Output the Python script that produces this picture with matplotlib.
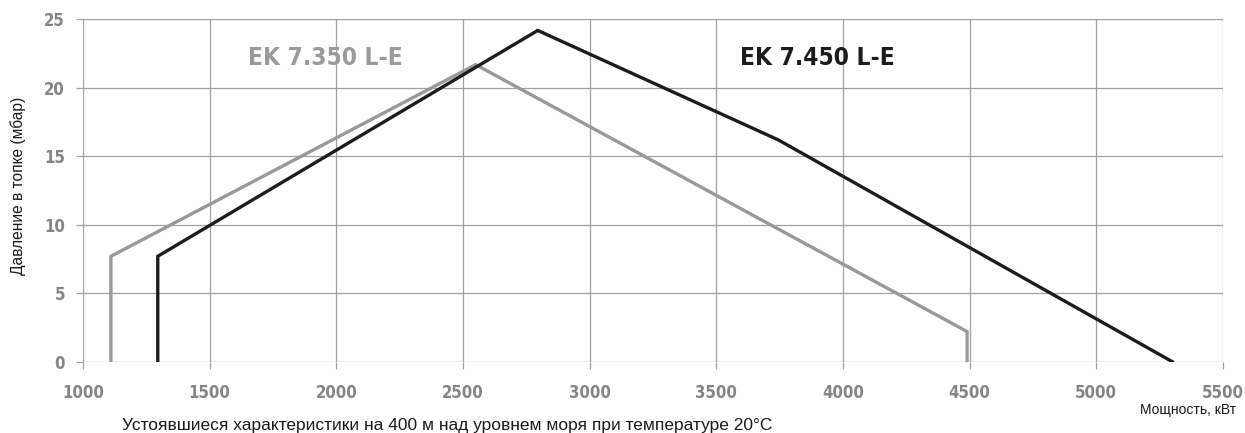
import matplotlib
matplotlib.use("Agg")
import matplotlib.pyplot as plt
from matplotlib import font_manager
from matplotlib.font_manager import FontProperties

# Data
x_350 = [1110, 1110, 2550, 4490, 4490]
y_350 = [0, 7.7, 21.7, 2.2, 0]
x_450 = [1295, 1295, 2795, 3745, 5300]
y_450 = [0, 7.7, 24.2, 16.2, 0]
xticks = [1000, 1500, 2000, 2500, 3000, 3500, 4000, 4500, 5000, 5500]
yticks = [0, 5, 10, 15, 20, 25]

# pick a condensed bold font if available
cand = None
for f in font_manager.fontManager.ttflist:
    fn = f.fname.lower()
    if ('condensed' in fn or 'narrow' in fn) and 'bold' in fn and 'oblique' not in fn and 'italic' not in fn:
        if cand is None or 'liberation' in fn:
            cand = f.fname
if cand:
    bold_fp = lambda size: FontProperties(fname=cand, size=size)
else:
    bold_fp = lambda size: FontProperties(family='DejaVu Sans', weight='bold', size=size)

reg = 'Liberation Sans'

fig = plt.figure(figsize=(12.45, 4.33), dpi=100)
ax = fig.add_axes([0.0667, 0.1647, 0.9156, 0.7903])

grid_c = '#a0a0a0'
ax.plot(x_350, y_350, color='#999999', lw=2.4, solid_joinstyle='miter', zorder=3)
ax.plot(x_450, y_450, color='#1c1c1c', lw=2.4, solid_joinstyle='miter', zorder=4)

ax.set_xlim(1000, 5500)
ax.set_ylim(0, 25)
ax.set_xticks(xticks)
ax.set_yticks(yticks)
ax.grid(True, color=grid_c, lw=0.9)
for s in ax.spines.values():
    s.set_visible(False)
ax.tick_params(length=5, width=0.9, color=grid_c, pad=8, labelcolor='#858585')
for lab in ax.get_xticklabels() + ax.get_yticklabels():
    lab.set_fontproperties(bold_fp(12))
ax.tick_params(axis='x', pad=11)

ax.text(1650, 22.2, 'EK 7.350 L-E', color='#9a9a9a', fontproperties=bold_fp(17.6),
        va='center', ha='left')
ax.text(3595, 22.2, 'EK 7.450 L-E', color='#1c1c1c', fontproperties=bold_fp(17.6),
        va='center', ha='left')

fig.text(0.0145, 0.57, 'Давление в топке (мбар)', rotation=90, ha='center', va='center',
         fontsize=11.2, family=reg, color='#1a1a1a')
fig.text(0.993, 0.053, 'Мощность, кВт', ha='right', va='center', fontsize=10,
         family=reg, color='#1a1a1a')
fig.text(0.098, 0.018, 'Устоявшиеся характеристики на 400 м над уровнем моря при температуре 20°C',
         ha='left', va='center', fontsize=12.5, family=reg, color='#1a1a1a')

fig.savefig('out.png', dpi=100)
